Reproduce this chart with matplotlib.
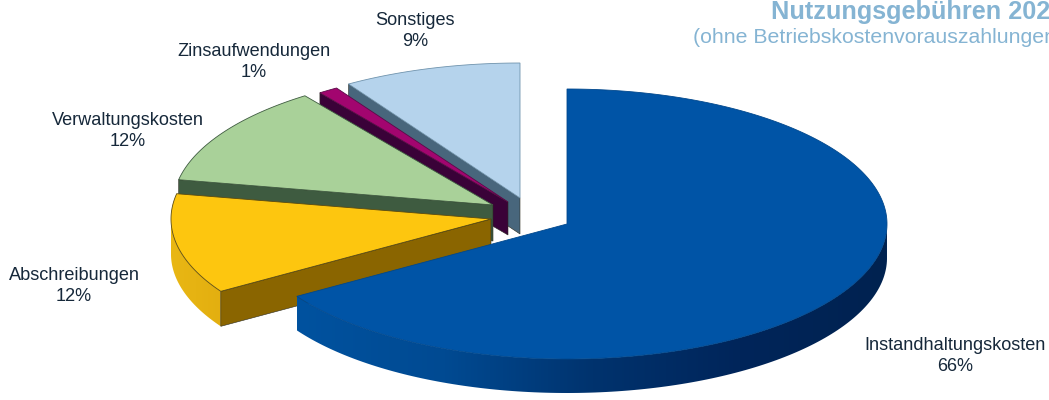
import numpy as np
import matplotlib
matplotlib.use("Agg")
import matplotlib.pyplot as plt
from matplotlib.colors import LinearSegmentedColormap
from matplotlib.patches import Polygon

plt.rcParams["font.family"] = ["Liberation Sans", "DejaVu Sans"]

# Cost shares in percent, clockwise from twelve o'clock
categories = ["Instandhaltungskosten", "Abschreibungen", "Verwaltungskosten",
              "Zinsaufwendungen", "Sonstiges"]
shares = [66, 12, 12, 1, 9]

# Slice styling and the apex of each exploded slice in canvas pixels
apex_x = [567, 491, 493, 508, 520]
apex_y = [224, 219, 205, 202, 198]
depths = [34, 35, 36, 33, 36]
top_colors = ["#0054A6", "#FDC60F", "#A9D199", "#A2056F", "#B5D3EC"]
cut_colors = ["#004E9A", "#8A6500", "#3E5B40", "#3A0238", "#48667C"]
edge_colors = ["#00478C", "#5a4a10", "#3E5B40", "#5a0a48", "#6f93ad"]
rim_ramps = [["#00529F", "#004A92", "#00336E", "#00255A", "#002250"],
             ["#E9B714", "#E3AF10"],
             ["#3E5B40", "#3E5B40"],
             ["#3A0238", "#3A0238"],
             ["#48667C", "#48667C"]]
label_x = [955, 74, 128, 254, 415]
label_y = [356, 286, 131, 62, 31]

RX, RY = 320, 135

fig = plt.figure(figsize=(10.49, 4.0), dpi=100)
ax = fig.add_axes([0, 0, 1, 1])
ax.axis("off")


def rim(cx, cy, angles):
    rad = np.radians(angles)
    return np.column_stack([cx + RX * np.cos(rad), cy - RY * np.sin(rad)])


# Angles run clockwise from 90 degrees, so each slice spans start down to end
ends = 90 - np.cumsum(shares) * 3.6
starts = np.concatenate([[90], ends[:-1]])

# Painted back to front so nearer slices overlap the ones behind them
for i in range(len(shares) - 1, -1, -1):
    cx, cy, d = apex_x[i], apex_y[i], depths[i]
    angles = np.linspace(starts[i], ends[i], 240)
    arc = rim(cx, cy, angles)
    layer = 10 + 3 * (len(shares) - i)

    # Curved outer wall: the part below the equator, shaded from left to right
    wrapped = (angles + 360) % 360
    front = np.sort(wrapped[(wrapped > 180) & (wrapped < 360)])
    if front.size:
        lower = rim(cx, cy, front)
        wall = Polygon(np.vstack([lower, lower[::-1] + [0, d]]), closed=True,
                       facecolor="none", edgecolor="none", zorder=layer)
        ax.add_patch(wall)
        ramp = LinearSegmentedColormap.from_list("rim", rim_ramps[i])
        shade = ax.imshow(np.linspace(0, 1, 256)[None, :], cmap=ramp, aspect="auto",
                          extent=(lower[:, 0].min(), lower[:, 0].max(),
                                  lower[:, 1].max() + d, lower[:, 1].min()),
                          zorder=layer)
        shade.set_clip_path(wall)

    # Flat cut face along the slice's first radial edge; the largest slice
    # starts at twelve o'clock, where that face points away from the viewer
    if i > 0:
        corner = arc[0]
        cut = [[cx, cy], corner, corner + [0, d], [cx, cy + d]]
        ax.add_patch(Polygon(cut, closed=True, facecolor=cut_colors[i],
                             edgecolor="#2b2b20", linewidth=0.4, zorder=layer + 1))

    # Top surface
    ax.add_patch(Polygon(np.vstack([[cx, cy], arc]), closed=True,
                         facecolor=top_colors[i], edgecolor=edge_colors[i],
                         linewidth=0.6, zorder=layer + 2))

    ax.text(label_x[i], label_y[i], f"{categories[i]}\n{shares[i]}%",
            ha="center", va="center", fontsize=13.1, color="#16283a",
            linespacing=1.32, zorder=40)

ax.text(771, 18.5, "Nutzungsgebühren 202", fontsize=18.2, fontweight="bold",
        color="#85B4D3", ha="left", va="baseline", zorder=40)
ax.text(693, 43, "(ohne Betriebskostenvorauszahlungen)", fontsize=15.3,
        color="#85B4D3", ha="left", va="baseline", zorder=40)

ax.set_xlim(0, 1049)
ax.set_ylim(400, 0)

fig.savefig("out.png", dpi=100, facecolor="white")
